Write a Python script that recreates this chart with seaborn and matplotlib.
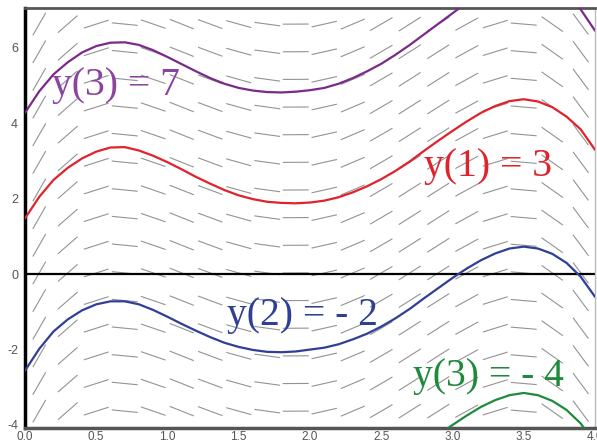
import numpy as np
import pandas as pd
import matplotlib
matplotlib.use("Agg")
import matplotlib.pyplot as plt
import seaborn as sns
from matplotlib.collections import LineCollection

# slope field: one slope per column, same in every row
field_x = [0.1, 0.3, 0.5, 0.7, 0.9, 1.1, 1.3, 1.5, 1.7, 1.9,
           2.1, 2.3, 2.5, 2.7, 2.9, 3.1, 3.3, 3.5, 3.7, 3.9]
field_slope = [6.6, 3.3, 1.2, -0.37, -1.3, -1.5, -1.4, -1.05, -0.52, 0.02,
               0.85, 1.6, 2.2, 2.4, 2.4, 2.07, 1.16, -0.32, -2.66, -5.1]
field_y = [-3.633, -2.9, -2.167, -1.433, -0.7, 0.033, 0.767, 1.5, 2.233,
           2.967, 3.7, 4.433, 5.167, 5.9, 6.633]

# solution curves
curve_x = [0.0, 0.1, 0.2, 0.3, 0.4, 0.5, 0.6, 0.7, 0.8, 0.9, 1.0,
           1.1, 1.2, 1.3, 1.4, 1.5, 1.6, 1.7, 1.8, 1.9, 2.0,
           2.1, 2.2, 2.3, 2.4, 2.5, 2.6, 2.7, 2.8, 2.9, 3.0,
           3.1, 3.2, 3.3, 3.4, 3.5, 3.6, 3.7, 3.8, 3.9, 4.0]
purple_y = [4.28, 4.85, 5.30, 5.62, 5.88, 6.05, 6.14, 6.15, 6.08, 5.94, 5.76,
            5.57, 5.38, 5.20, 5.05, 4.94, 4.87, 4.83, 4.82, 4.84, 4.88,
            4.94, 5.05, 5.20, 5.38, 5.58, 5.82, 6.08, 6.36, 6.64, 6.92,
            7.20, 7.48, 7.66, 7.79, 7.84, 7.78, 7.63, 7.38, 7.02, 6.46]
red_y = [1.48, 2.05, 2.50, 2.82, 3.07, 3.25, 3.36, 3.37, 3.28, 3.14, 2.97,
         2.78, 2.58, 2.40, 2.23, 2.09, 1.99, 1.92, 1.89, 1.88, 1.90,
         1.95, 2.04, 2.17, 2.33, 2.52, 2.74, 2.99, 3.27, 3.54, 3.80,
         4.05, 4.28, 4.46, 4.59, 4.64, 4.58, 4.43, 4.18, 3.84, 3.30]
blue_y = [-2.56, -1.98, -1.52, -1.20, -0.96, -0.80, -0.72, -0.72, -0.80, -0.95, -1.13,
          -1.32, -1.50, -1.67, -1.82, -1.93, -2.01, -2.06, -2.07, -2.05, -2.00,
          -1.95, -1.86, -1.73, -1.58, -1.39, -1.17, -0.92, -0.64, -0.37, -0.10,
          0.15, 0.37, 0.55, 0.68, 0.73, 0.68, 0.54, 0.30, -0.07, -0.60]
green_x = [2.9, 3.0, 3.1, 3.2, 3.3, 3.4, 3.5, 3.6, 3.7, 3.8, 3.9, 4.0]
green_y = [-4.26, -4.00, -3.75, -3.52, -3.34, -3.21, -3.15, -3.21, -3.36, -3.60, -3.96, -4.50]

labels = ["y(3) = 7", "y(1) = 3", "y(2) = - 2", "y(3) = - 4"]
label_x = [0.19, 2.80, 1.42, 2.72]
label_y = [4.75, 2.60, -1.35, -2.97]
colors = ["#7a2a88", "#e0222c", "#2f3f96", "#1f8a3c"]
text_colors = ["#8a45a0", "#e0222c", "#2f3f96", "#1f8a3c"]


def main():
    sns.set_style("white")
    plt.rcParams['font.family'] = ['Liberation Sans', 'DejaVu Sans']
    plt.rcParams['axes.unicode_minus'] = False
    fig = plt.figure(figsize=(5.97, 4.44), dpi=100)
    ax = fig.add_axes([25 / 597, 16 / 444, 570 / 597, 420 / 444])
    ax.set_xlim(0, 4)
    ax.set_ylim(-4.08, 7.06)

    # slope segments with a fixed on-screen length
    seg_len = 26.0
    p0 = ax.transData.transform((0, 0))
    p1 = ax.transData.transform((1, 1))
    sx, sy = p1[0] - p0[0], p1[1] - p0[1]
    segs = []
    for x, m in zip(field_x, field_slope):
        dpx, dpy = 1.0, m * sy / sx
        n = np.hypot(dpx, dpy)
        dx = seg_len / 2 * dpx / n / sx
        dy = seg_len / 2 * dpy / n / sy
        for y in field_y:
            segs.append([(x - dx, y - dy), (x + dx, y + dy)])
    ax.add_collection(LineCollection(segs, colors="#939393", linewidths=0.8, zorder=1))

    ax.axhline(0, color="black", lw=1.6, zorder=2)

    df = pd.concat([
        pd.DataFrame({"x": curve_x, "y": purple_y, "c": "purple"}),
        pd.DataFrame({"x": curve_x, "y": red_y, "c": "red"}),
        pd.DataFrame({"x": curve_x, "y": blue_y, "c": "blue"}),
        pd.DataFrame({"x": green_x, "y": green_y, "c": "green"}),
    ])
    sns.lineplot(data=df, x="x", y="y", hue="c", palette=colors, sort=False,
                 lw=1.6, legend=False, ax=ax, zorder=3)

    for t, tx, ty, tc in zip(labels, label_x, label_y, text_colors):
        ax.text(tx, ty, t, color=tc, fontsize=28.5, family=['Liberation Serif', 'DejaVu Serif'],
                zorder=4)

    ax.set_xticks([0, 0.5, 1, 1.5, 2, 2.5, 3, 3.5, 4])
    ax.set_xticklabels(["0.0", "0.5", "1.0", "1.5", "2.0", "2.5", "3.0", "3.5", "4.0"])
    ax.set_yticks([-4, -2, 0, 2, 4, 6])
    ax.tick_params(length=0, labelcolor="#555555")
    ax.tick_params(axis="x", pad=2, labelsize=8.5)
    ax.tick_params(axis="y", pad=5, labelsize=9)
    ax.set_xlabel("")
    ax.set_ylabel("")

    ax.spines["left"].set_color("black")
    ax.spines["left"].set_linewidth(2.5)
    ax.spines["bottom"].set_color("#555555")
    ax.spines["bottom"].set_linewidth(2.5)
    ax.spines["top"].set_color("#555555")
    ax.spines["top"].set_linewidth(2)
    ax.spines["right"].set_color("#bbbbbb")
    ax.spines["right"].set_linewidth(1)

    fig.savefig("out.png", dpi=100)


if __name__ == '__main__':
    main()
